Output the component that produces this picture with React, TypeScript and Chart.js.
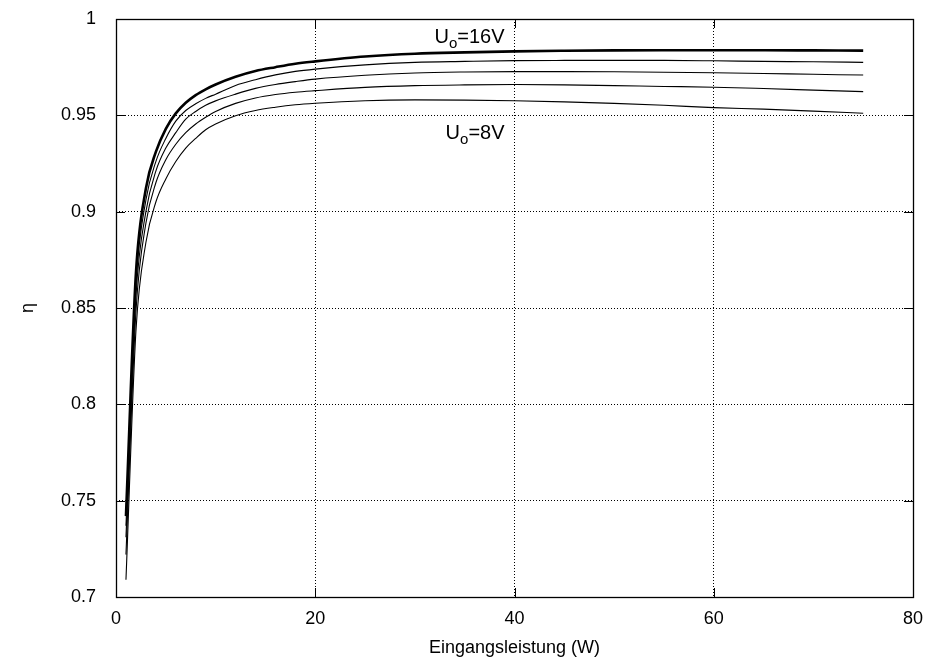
import { useEffect, useRef } from "react";
import { Chart, registerables } from "chart.js";

Chart.register(...registerables);

// Eingangsleistung (W)
const inputPower = [1, 2, 3, 4, 5, 6, 7, 8, 9, 10, 12, 14, 16, 18, 20, 25, 30, 35, 40, 45, 50, 55, 60, 65, 70, 75];

// efficiency η for output voltages 16V .. 8V
const eta16V = [0.742, 0.868, 0.912, 0.931, 0.943, 0.951, 0.9565, 0.9605, 0.9635, 0.966, 0.970, 0.973, 0.975, 0.9768, 0.978, 0.9805, 0.982, 0.9827, 0.9832, 0.9835, 0.9837, 0.9838, 0.9838, 0.9838, 0.9837, 0.9836];
const eta14V = [0.737, 0.862, 0.906, 0.926, 0.938, 0.947, 0.9525, 0.956, 0.9588, 0.961, 0.9655, 0.9685, 0.971, 0.9728, 0.974, 0.9762, 0.9775, 0.978, 0.9784, 0.9785, 0.9785, 0.9785, 0.9783, 0.978, 0.9778, 0.9775];
const eta12V = [0.731, 0.856, 0.900, 0.921, 0.933, 0.941, 0.948, 0.952, 0.9552, 0.9575, 0.961, 0.964, 0.966, 0.9675, 0.9688, 0.9708, 0.972, 0.9725, 0.9727, 0.9727, 0.9726, 0.9724, 0.9721, 0.9717, 0.9713, 0.9709];
const eta10V = [0.722, 0.848, 0.894, 0.915, 0.927, 0.935, 0.941, 0.9455, 0.949, 0.952, 0.9562, 0.959, 0.9608, 0.962, 0.9628, 0.9645, 0.9654, 0.9658, 0.966, 0.9658, 0.9654, 0.965, 0.9646, 0.9639, 0.9631, 0.9623];
const eta8V = [0.709, 0.838, 0.884, 0.905, 0.917, 0.926, 0.933, 0.938, 0.9425, 0.9455, 0.9498, 0.9525, 0.9542, 0.9555, 0.9563, 0.9576, 0.958, 0.9579, 0.9576, 0.957, 0.9562, 0.9552, 0.954, 0.9532, 0.9522, 0.9511];

const seriesNames = ["16V", "14V", "12V", "10V", "8V"];
const seriesValues = [eta16V, eta14V, eta12V, eta10V, eta8V];
const seriesWidths = [2.6, 1.1, 1.1, 1.1, 1.1];

const xTicks = [0, 20, 40, 60, 80];
const yTicks = [0.7, 0.75, 0.8, 0.85, 0.9, 0.95, 1];

// curve labels (right-aligned) in data coordinates
const labelTexts = ["=16V", "=8V"];
const labelX = [39, 39];
const labelY = [0.9875, 0.9376];

const FONT = "Liberation Sans, Arial, Helvetica, sans-serif";

export default function App() {
  const ref = useRef<HTMLCanvasElement | null>(null);

  useEffect(() => {
    if (!ref.current) return;

    const framePlugin = {
      id: "frame",
      afterDatasetsDraw(chart: any) {
        const { ctx, chartArea } = chart;
        const xs = chart.scales.x;
        const ys = chart.scales.y;
        const { left, right, top, bottom } = chartArea;
        ctx.save();
        ctx.strokeStyle = "#000";
        ctx.lineWidth = 1;
        ctx.setLineDash([]);
        const tl = 9;
        ctx.beginPath();
        for (const v of xTicks) {
          const px = Math.round(xs.getPixelForValue(v)) + 0.5;
          ctx.moveTo(px, bottom);
          ctx.lineTo(px, bottom - tl);
          ctx.moveTo(px, top);
          ctx.lineTo(px, top + tl);
        }
        for (const v of yTicks) {
          const py = Math.round(ys.getPixelForValue(v)) + 0.5;
          ctx.moveTo(left, py);
          ctx.lineTo(left + tl, py);
          ctx.moveTo(right, py);
          ctx.lineTo(right - tl, py);
        }
        ctx.stroke();
        ctx.lineWidth = 1.3;
        ctx.strokeRect(Math.round(left) + 0.5, Math.round(top) + 0.5, Math.round(right - left), Math.round(bottom - top));

        // curve labels
        ctx.fillStyle = "#000";
        ctx.textBaseline = "alphabetic";
        ctx.textAlign = "left";
        for (let i = 0; i < labelTexts.length; i++) {
          const px = xs.getPixelForValue(labelX[i]);
          const py = ys.getPixelForValue(labelY[i]);
          ctx.font = `20px ${FONT}`;
          const restW = ctx.measureText(labelTexts[i]).width;
          const uW = ctx.measureText("U").width;
          ctx.font = `15px ${FONT}`;
          const subW = ctx.measureText("o").width;
          const x0 = px - restW - subW - uW;
          ctx.font = `20px ${FONT}`;
          ctx.fillText("U", x0, py);
          ctx.font = `15px ${FONT}`;
          ctx.fillText("o", x0 + uW, py + 5);
          ctx.font = `20px ${FONT}`;
          ctx.fillText(labelTexts[i], x0 + uW + subW, py);
        }
        ctx.restore();
      },
    };

    const chart = new Chart(ref.current, {
      type: "line",
      data: {
        datasets: seriesValues.map((vals, i) => ({
          label: seriesNames[i],
          data: inputPower.map((x, j) => ({ x, y: vals[j] })),
          borderColor: "#000",
          borderWidth: seriesWidths[i],
          pointRadius: 0,
          cubicInterpolationMode: "monotone" as const,
          fill: false,
        })),
      },
      options: {
        animation: false,
        responsive: false,
        maintainAspectRatio: false,
        layout: { padding: { left: 0, top: 19, right: 20, bottom: 0 } },
        plugins: {
          legend: { display: false },
          tooltip: { enabled: false },
        },
        scales: {
          x: {
            type: "linear",
            min: 0,
            max: 80,
            afterFit(scale: any) {
              scale.height = 72;
              scale.paddingLeft = 0;
              scale.paddingRight = 0;
            },
            afterBuildTicks(scale: any) {
              scale.ticks = xTicks.map((v) => ({ value: v }));
            },
            ticks: {
              color: "#000",
              font: { family: FONT, size: 18 },
              padding: 11,
              maxRotation: 0,
            },
            grid: { color: "#000", lineWidth: 1, drawTicks: false },
            border: { display: false, dash: [1, 2] },
            title: {
              display: true,
              text: "Eingangsleistung (W)",
              color: "#000",
              font: { family: FONT, size: 18 },
              padding: { top: 0, bottom: 10 },
            },
          },
          y: {
            type: "linear",
            min: 0.7,
            max: 1,
            afterFit(scale: any) {
              scale.width = 116;
              scale.paddingTop = 0;
              scale.paddingBottom = 0;
            },
            afterBuildTicks(scale: any) {
              scale.ticks = yTicks.map((v) => ({ value: v }));
            },
            ticks: {
              color: "#000",
              font: { family: FONT, size: 18 },
              padding: 20,
              callback: (v: any) => String(Math.round(Number(v) * 100) / 100),
            },
            grid: { color: "#000", lineWidth: 1, drawTicks: false },
            border: { display: false, dash: [1, 2] },
            title: {
              display: true,
              text: "η",
              color: "#000",
              font: { family: FONT, size: 18 },
              padding: { top: 17, bottom: 0 },
            },
          },
        },
      },
      plugins: [framePlugin],
    });

    return () => chart.destroy();
  }, []);

  return (
    <div style={{ position: "absolute", left: 0, top: 0, width: 933, height: 669, background: "#fff" }}>
      <canvas ref={ref} width={933} height={669} style={{ display: "block" }} />
    </div>
  );
}
